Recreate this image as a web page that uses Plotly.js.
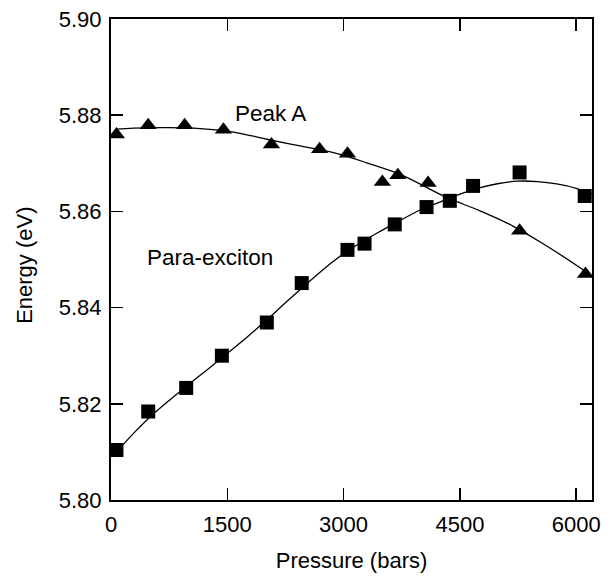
<!DOCTYPE html>
<html>
<head>
<meta charset="utf-8">
<script src="https://cdn.plot.ly/plotly-3.0.1.min.js"></script>
<style>html,body{margin:0;padding:0;background:#fff;}#chart{width:611px;height:578px;}</style>
</head>
<body>
<div id="chart"></div>
<script>
// Peak A (triangles)
var peakAPressure = [70, 480, 950, 1450, 2070, 2690, 3050, 3500, 3700, 4090, 5270, 6120];
var peakAEnergy   = [5.8760, 5.8779, 5.8779, 5.8770, 5.8739, 5.8729, 5.8720, 5.8661, 5.8675, 5.8659, 5.8560, 5.8470];
// Para-exciton (squares)
var paraPressure = [70, 480, 970, 1430, 2010, 2460, 3050, 3270, 3660, 4070, 4370, 4670, 5270, 6110];
var paraEnergy   = [5.8104, 5.8184, 5.8233, 5.8300, 5.8369, 5.8451, 5.8520, 5.8533, 5.8573, 5.8609, 5.8622, 5.8653, 5.8681, 5.8632];
// fitted curves
var peakAFitP = [70, 290, 720, 1150, 1580, 2010, 2440, 2870, 3300, 3730, 4330, 4760, 5190, 5620, 6050, 6210];
var peakAFitE = [5.8771, 5.8773, 5.8774, 5.8772, 5.8765, 5.8750, 5.8736, 5.8722, 5.8701, 5.8677, 5.8629, 5.8601, 5.8569, 5.8528, 5.8483, 5.8465];
var paraFitP = [70, 300, 500, 750, 1000, 1250, 1500, 1750, 2000, 2250, 2500, 2750, 3000, 3250, 3500, 3750, 4000, 4250, 4500, 4750, 5000, 5250, 5500, 5750, 6000, 6210];
var paraFitE = [5.8100, 5.8140, 5.8172, 5.8207, 5.8240, 5.8272, 5.8305, 5.8338, 5.8373, 5.8410, 5.8446, 5.8481, 5.8512, 5.8538, 5.8561, 5.8583, 5.8604, 5.8620, 5.8636, 5.8649, 5.8658, 5.8663, 5.8662, 5.8657, 5.8648, 5.8636];
var xTicks = [0, 1500, 3000, 4500, 6000];
var xTickText = ['0', '1500', '3000', '4500', '6000'];
var yTicks = [5.80, 5.82, 5.84, 5.86, 5.88, 5.90];
var yTickText = ['5.80', '5.82', '5.84', '5.86', '5.88', '5.90'];

var FONT = 'Liberation Sans, Arial, sans-serif';
var traces = [
  {x: peakAFitP, y: peakAFitE, mode: 'lines', line: {color: '#000', width: 1.3, shape: 'spline'}, hoverinfo: 'skip'},
  {x: paraFitP, y: paraFitE, mode: 'lines', line: {color: '#000', width: 1.3, shape: 'spline'}, hoverinfo: 'skip'},
  {x: peakAPressure, y: peakAEnergy, mode: 'markers', marker: {symbol: 'triangle-up', size: 15, color: '#000'}},
  {x: paraPressure, y: paraEnergy, mode: 'markers', marker: {symbol: 'square', size: 14, color: '#000'}}
];
var layout = {
  width: 611, height: 578,
  margin: {l: 111, r: 19, t: 19, b: 78, pad: 0},
  showlegend: false,
  paper_bgcolor: '#fff', plot_bgcolor: '#fff',
  font: {family: FONT, size: 22, color: '#000'},
  xaxis: {
    range: [0, 6204], tickvals: xTicks, ticktext: xTickText,
    ticks: 'inside', ticklen: 12, tickwidth: 1.5, tickcolor: '#000',
    showline: true, linewidth: 2, linecolor: '#000', mirror: 'allticks',
    showgrid: false, zeroline: false, ticklabelstandoff: 4,
    tickfont: {family: FONT, size: 22, color: '#000'},
    title: {text: 'Pressure (bars)', font: {family: FONT, size: 22, color: '#000'}, standoff: 16}
  },
  yaxis: {
    range: [5.80, 5.90], tickvals: yTicks, ticktext: yTickText,
    ticks: 'inside', ticklen: 12, tickwidth: 1.5, tickcolor: '#000',
    showline: true, linewidth: 2, linecolor: '#000', mirror: 'allticks',
    showgrid: false, zeroline: false, ticklabelstandoff: 3,
    tickfont: {family: FONT, size: 22, color: '#000'}
  },
  annotations: [
    {x: 2057, y: 5.8804, xref: 'x', yref: 'y', text: 'Peak A', showarrow: false, font: {family: FONT, size: 22.5, color: '#000'}},
    {x: 1277, y: 5.8504, xref: 'x', yref: 'y', text: 'Para-exciton', showarrow: false, font: {family: FONT, size: 22.5, color: '#000'}},
    {x: (25 - 111) / 481, y: (500 - 266) / 480.7, xref: 'paper', yref: 'paper', xanchor: 'center', yanchor: 'middle',
     text: 'Energy (eV)', textangle: -90, showarrow: false, font: {family: FONT, size: 22, color: '#000'}}
  ]
};
Plotly.newPlot('chart', traces, layout, {staticPlot: true});
</script>
</body>
</html>
